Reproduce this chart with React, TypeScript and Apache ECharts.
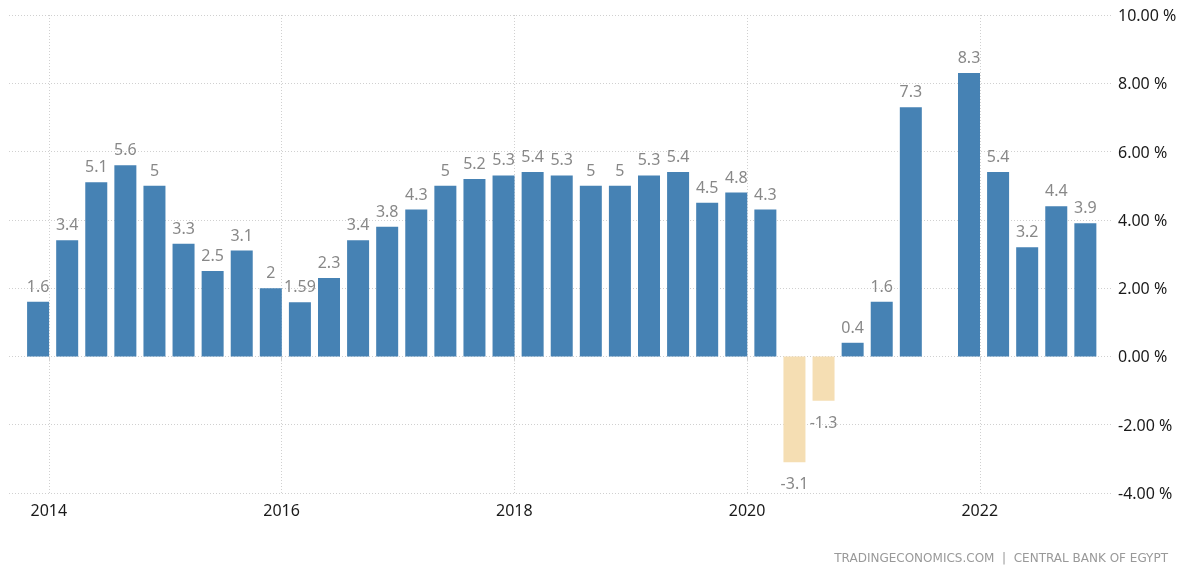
import React, { useEffect, useRef } from "react";
import * as echarts from "echarts";

const periods = [
  "2013Q4", "2014Q1", "2014Q2", "2014Q3", "2014Q4", "2015Q1", "2015Q2", "2015Q3", "2015Q4",
  "2016Q1", "2016Q2", "2016Q3", "2016Q4", "2017Q1", "2017Q2", "2017Q3", "2017Q4",
  "2018Q1", "2018Q2", "2018Q3", "2018Q4", "2019Q1", "2019Q2", "2019Q3", "2019Q4",
  "2020Q1", "2020Q2", "2020Q3", "2020Q4", "2021Q1", "2021Q2", "2021Q3", "2021Q4",
  "2022Q1", "2022Q2", "2022Q3", "2022Q4",
];

const gdpGrowth: (number | null)[] = [
  1.6, 3.4, 5.1, 5.6, 5, 3.3, 2.5, 3.1, 2,
  1.59, 2.3, 3.4, 3.8, 4.3, 5, 5.2, 5.3,
  5.4, 5.3, 5, 5, 5.3, 5.4, 4.5, 4.8,
  4.3, -3.1, -1.3, 0.4, 1.6, 7.3, null, 8.3,
  5.4, 3.2, 4.4, 3.9,
];

const yearLabels = ["2014", "2016", "2018", "2020", "2022"];

const yTicks = { min: -4, max: 10, interval: 2 };

const sourceText = "TRADINGECONOMICS.COM  |  CENTRAL BANK OF EGYPT";

export default function App() {
  const ref = useRef<HTMLDivElement>(null);

  useEffect(() => {
    if (!ref.current) return;
    const chart = echarts.init(ref.current, null, { renderer: "svg" });

    const yearPos = yearLabels.map(
      (y) => periods.indexOf(String(Number(y) - 1) + "Q4") + 0.37
    );

    const data = gdpGrowth.map((v, i) => {
      if (v === null) return { value: [i, null] };
      const neg = v < 0;
      return {
        value: [i, v],
        itemStyle: { color: neg ? "#F5DEB3" : "#4682B4" },
        label: {
          position: neg ? "bottom" : "top",
          distance: neg ? 13 : 8,
        },
      };
    });

    const font = "'Noto Sans', sans-serif";

    chart.setOption({
      animation: false,
      grid: { left: 9, right: 68, top: 15, bottom: 74 },
      xAxis: {
        type: "value",
        min: -1,
        max: 36.95,
        axisLine: { show: false },
        axisTick: {
          show: true,
          customValues: yearPos,
          length: 5,
          lineStyle: { color: "#d0d0d0" },
        },
        axisLabel: {
          customValues: yearPos,
          formatter: (v: number) => {
            const k = yearPos.findIndex((p) => Math.abs(p - v) < 0.01);
            return k >= 0 ? yearLabels[k] : "";
          },
          color: "#1a1a1a",
          fontFamily: font,
          fontSize: 16,
          margin: 9,
        },
        splitLine: {
          show: true,
          lineStyle: { color: "#d0d0d0", type: [1, 2] },
        },
      },
      yAxis: {
        type: "value",
        position: "right",
        min: yTicks.min,
        max: yTicks.max,
        interval: yTicks.interval,
        axisLine: { show: false },
        axisTick: { show: false },
        axisLabel: {
          formatter: (v: number) => v.toFixed(2) + " %",
          color: "#1a1a1a",
          fontFamily: font,
          fontSize: 16,
          margin: 5,
        },
        splitLine: {
          show: true,
          lineStyle: { color: "#d0d0d0", type: [1, 2] },
        },
      },
      series: [
        {
          type: "bar",
          barWidth: 22,
          data,
          label: {
            show: true,
            color: "#888888",
            fontFamily: font,
            fontSize: 16,
            formatter: (p: any) => String(p.value[1]),
          },
        },
      ],
      graphic: [
        {
          type: "text",
          right: 13,
          bottom: 3,
          style: {
            text: sourceText,
            fill: "#999999",
            font: "12px 'DejaVu Sans', sans-serif",
          },
        },
      ],
    });

    return () => chart.dispose();
  }, []);

  return (
    <div
      ref={ref}
      style={{ position: "fixed", left: 0, top: 0, width: 1181, height: 567 }}
    />
  );
}
